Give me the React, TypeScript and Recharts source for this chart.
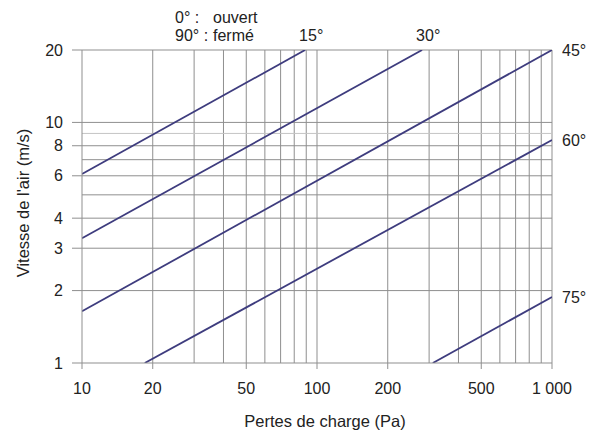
import { LineChart, Line, XAxis, YAxis, ReferenceLine, LabelList } from 'recharts'

// pressure drop (Pa) / air speed (m/s)
const s15 = [{ p: 10, v: 6.1 }, { p: 89, v: 20 }]
const s30 = [{ p: 10, v: 3.3 }, { p: 280, v: 20 }]
const s45 = [{ p: 10, v: 1.64 }, { p: 1000, v: 20 }]
const s60 = [{ p: 18.5, v: 1 }, { p: 1000, v: 8.45 }]
const s75 = [{ p: 311, v: 1 }, { p: 1000, v: 1.88 }]

const series = [
  { name: '15°', data: s15, place: 'top' },
  { name: '30°', data: s30, place: 'top' },
  { name: '45°', data: s45, place: 'right' },
  { name: '60°', data: s60, place: 'right' },
  { name: '75°', data: s75, place: 'right' },
]

const xTicks = [10, 20, 50, 100, 200, 500, 1000]
const yTicks = [1, 2, 3, 4, 6, 8, 10, 20]
const xGrid = [20, 30, 40, 50, 60, 70, 80, 90, 100, 200, 300, 400, 500, 600, 700, 800, 900, 1000]
const yGrid = [2, 3, 4, 5, 6, 7, 8, 9, 10, 20]

const font = '"Liberation Sans", Arial, sans-serif'
const ink = '#222'
const lineColor = '#3e3c7e'
const gridColor = '#8f8f8f'

function endLabel(name: string, place: string, last: number) {
  return (props: any) => {
    if (props.index !== last) return null
    const x = Number(props.x)
    const y = Number(props.y)
    const tx = place === 'top' ? x - 6 : x + 10
    const ty = place === 'top' ? y - 9 : y + 6
    return (
      <text x={tx} y={ty} fontSize={16} fill={ink} fontFamily={font}>
        {name}
      </text>
    )
  }
}

export default function App() {
  return (
    <div style={{ position: 'absolute', left: 0, top: 0, width: 601, height: 432, background: '#fff' }}>
      <LineChart width={601} height={432} margin={{ top: 50, right: 49, left: 0, bottom: 0 }}>
        {xGrid.map((x) => (
          <ReferenceLine key={'x' + x} x={x} stroke={gridColor} strokeWidth={1} />
        ))}
        {yGrid.map((y) => (
          <ReferenceLine key={'y' + y} y={y} stroke={y === 9 ? '#c4c4c4' : gridColor} strokeWidth={1} />
        ))}
        <XAxis
          type="number"
          dataKey="p"
          scale="log"
          domain={[10, 1000]}
          ticks={xTicks}
          allowDataOverflow
          height={69}
          tickSize={6}
          tickMargin={14}
          tickFormatter={(v) => (v === 1000 ? '1 000' : String(v))}
          tick={{ fill: ink, fontSize: 16, fontFamily: font }}
          axisLine={{ stroke: gridColor }}
          tickLine={{ stroke: gridColor }}
        />
        <YAxis
          type="number"
          dataKey="v"
          scale="log"
          domain={[1, 20]}
          ticks={yTicks}
          allowDataOverflow
          width={82}
          tickSize={10}
          tickMargin={9}
          tick={{ fill: ink, fontSize: 16, fontFamily: font }}
          axisLine={{ stroke: gridColor }}
          tickLine={{ stroke: gridColor }}
        />
        {series.map((s) => (
          <Line
            key={s.name}
            data={s.data}
            dataKey="v"
            type="linear"
            stroke={lineColor}
            strokeWidth={1.8}
            dot={false}
            activeDot={false}
            isAnimationActive={false}
          >
            <LabelList dataKey="v" content={endLabel(s.name, s.place, s.data.length - 1)} />
          </Line>
        ))}
      </LineChart>
      <svg
        width={601}
        height={432}
        style={{ position: 'absolute', left: 0, top: 0, pointerEvents: 'none' }}
        fontFamily={font}
        fill={ink}
      >
        <text x={175} y={23} fontSize={16}>0° :</text>
        <text x={213} y={23} fontSize={16}>ouvert</text>
        <text x={175} y={41} fontSize={16}>90° :</text>
        <text x={213} y={41} fontSize={16}>fermé</text>
        <text x={325} y={427} fontSize={16.5} textAnchor="middle">Pertes de charge (Pa)</text>
        <text x={29} y={203} fontSize={16.5} textAnchor="middle" transform="rotate(-90 29 203)">
          Vitesse de l'air (m/s)
        </text>
      </svg>
    </div>
  )
}
